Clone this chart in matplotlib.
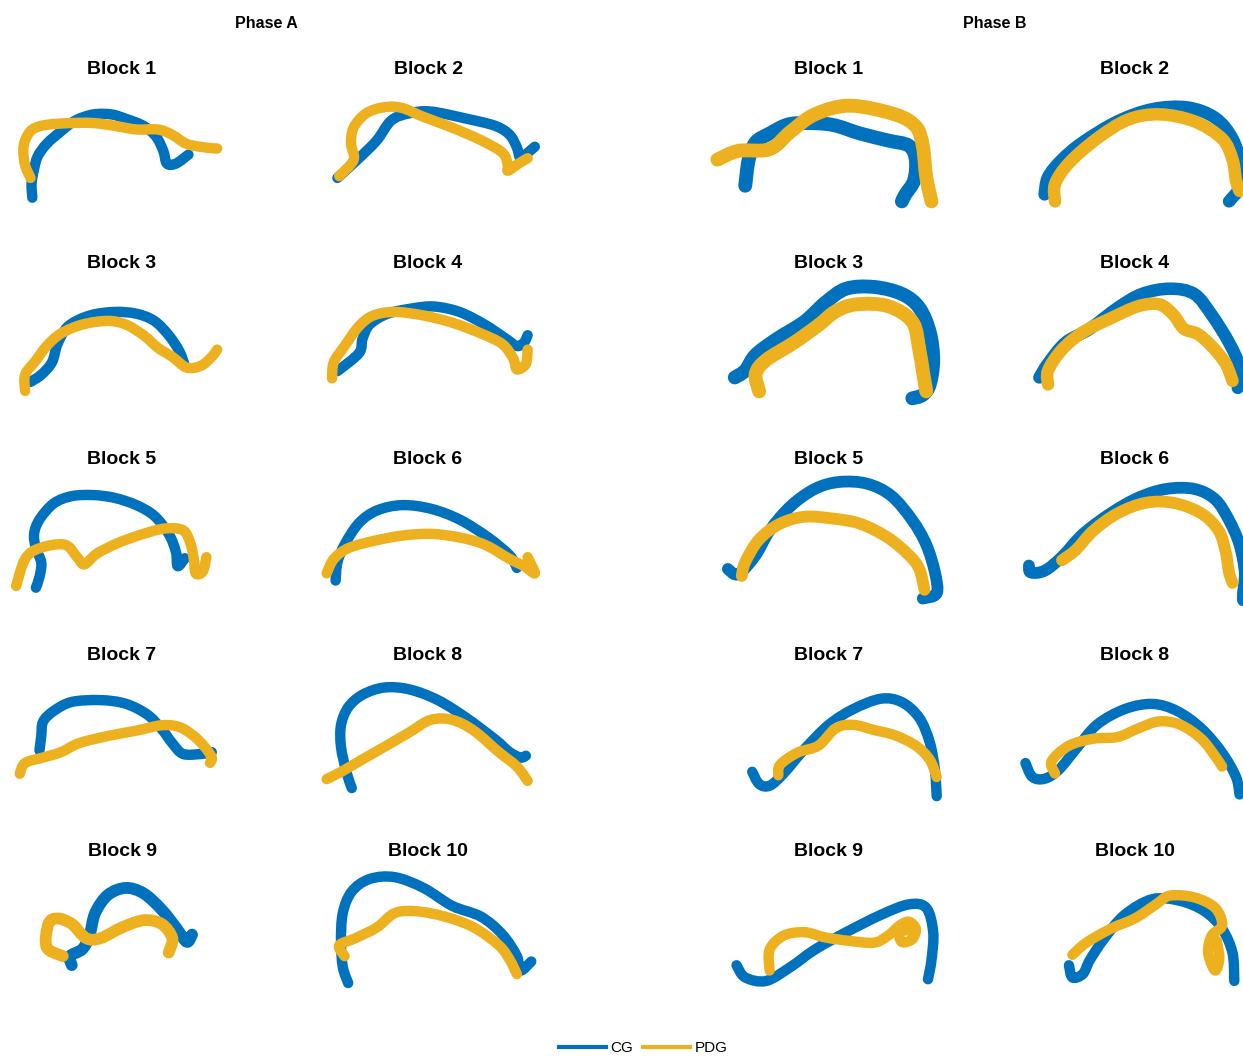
import matplotlib.pyplot as plt
from matplotlib.lines import Line2D
from matplotlib.path import Path
from matplotlib.patches import PathPatch
import numpy as np

plt.rcParams['font.family'] = ['Liberation Sans', 'DejaVu Sans']

BLUE = '#0072BD'
YELLOW = '#EDB120'

# digitised trajectories, one list of (x, y) per block (panel units, y down)
cg_A = {
    1: [(90, 300), (88, 260), (95, 220), (105, 185), (130, 150), (170, 115), (210, 85), (260, 68),
        (310, 68), (350, 80), (400, 100), (435, 130), (455, 170), (465, 205), (490, 205), (525, 180)],
    2: [(160, 245), (220, 190), (270, 140), (310, 85), (360, 65), (420, 60), (520, 80), (600, 100),
        (640, 125), (660, 160), (670, 190), (690, 175), (710, 158)],
    3: [(85, 270), (115, 250), (145, 215), (160, 165), (190, 115), (250, 85), (320, 75), (380, 80),
        (430, 100), (470, 140), (500, 185), (515, 225)],
    4: [(160, 240), (220, 190), (230, 150), (250, 110), (300, 80), (370, 65), (430, 60), (500, 75),
        (570, 110), (630, 150), (660, 170), (680, 160), (690, 140)],
    5: [(100, 300), (110, 270), (115, 230), (100, 190), (95, 150), (110, 110), (150, 65), (200, 45),
        (260, 42), (320, 50), (380, 70), (430, 100), (470, 150), (490, 200), (495, 240), (515, 218)],
    6: [(155, 280), (160, 230), (180, 180), (220, 120), (270, 85), (340, 70), (420, 80), (500, 110),
        (580, 160), (640, 210), (660, 245)],
    7: [(110, 210), (115, 170), (120, 130), (150, 100), (200, 75), (280, 70), (350, 80), (410, 110),
        (450, 150), (480, 190), (510, 220), (560, 220), (590, 215)],
    8: [(200, 315), (185, 270), (170, 200), (170, 140), (190, 90), (230, 55), (290, 35), (360, 40),
        (440, 70), (520, 120), (600, 180), (640, 215), (670, 230), (685, 225)],
    9: [(200, 265), (195, 240), (230, 220), (250, 180), (265, 120), (300, 70), (350, 50), (400, 65),
        (450, 110), (490, 160), (520, 200), (535, 180)],
    10: [(190, 315), (175, 270), (170, 200), (175, 120), (200, 60), (250, 25), (320, 20), (400, 50),
         (480, 100), (560, 130), (620, 180), (660, 240), (670, 280), (700, 255)],
}
pdg_A = {
    1: [(85, 245), (70, 210), (65, 170), (70, 140), (90, 110), (130, 97), (200, 92), (260, 92),
        (320, 100), (380, 110), (440, 110), (480, 125), (520, 150), (570, 160), (605, 163)],
    2: [(165, 240), (205, 195), (198, 150), (205, 105), (240, 65), (290, 48), (340, 50), (400, 75),
        (480, 105), (560, 140), (620, 175), (635, 210), (635, 225), (665, 205), (690, 190)],
    3: [(70, 295), (70, 250), (100, 210), (130, 170), (170, 135), (230, 110), (300, 100), (350, 110),
        (400, 140), (440, 175), (480, 200), (520, 230), (560, 225), (590, 200), (605, 180)],
    4: [(145, 260), (150, 215), (180, 170), (220, 115), (260, 85), (320, 75), (400, 85), (480, 105),
        (560, 135), (620, 165), (650, 205), (660, 235), (685, 220), (690, 180)],
    5: [(45, 295), (70, 220), (110, 190), (180, 180), (215, 215), (235, 235), (270, 205), (330, 175),
        (400, 150), (460, 135), (510, 140), (530, 175), (540, 220), (545, 260), (565, 255), (575, 215)],
    6: [(130, 260), (150, 220), (190, 190), (260, 170), (340, 155), (420, 150), (500, 160), (570, 180),
        (640, 220), (680, 240), (710, 260), (690, 215)],
    7: [(55, 275), (70, 245), (120, 230), (170, 215), (220, 190), (300, 170), (380, 155), (450, 140),
        (500, 145), (540, 170), (570, 200), (590, 230), (585, 245)],
    8: [(130, 290), (170, 270), (230, 235), (300, 195), (360, 160), (420, 125), (480, 125), (540, 155),
        (610, 215), (660, 255), (690, 295)],
    9: [(175, 240), (130, 215), (135, 150), (160, 135), (200, 150), (240, 190), (280, 190), (340, 160),
        (400, 140), (450, 150), (480, 190), (470, 230)],
    10: [(180, 240), (165, 210), (210, 190), (270, 160), (320, 120), (380, 115), (460, 130), (540, 160),
         (610, 210), (640, 250), (660, 290)],
}
cg_B = {
    1: [(130, 275), (140, 200), (160, 150), (200, 125), (250, 100), (300, 95), (380, 100), (460, 125),
        (540, 145), (600, 160), (620, 200), (615, 260), (590, 300), (580, 320)],
    2: [(210, 300), (220, 250), (260, 200), (320, 150), (420, 90), (520, 55), (620, 50), (700, 80),
        (750, 140), (775, 220), (770, 280), (740, 320)],
    3: [(100, 280), (130, 260), (160, 215), (220, 170), (300, 120), (360, 65), (420, 25), (500, 20),
        (580, 40), (630, 80), (660, 150), (670, 230), (660, 300), (640, 330), (610, 340)],
    4: [(195, 280), (220, 240), (270, 180), (340, 140), (420, 80), (490, 40), (570, 25), (640, 40),
        (690, 100), (740, 180), (770, 250), (765, 310)],
    5: [(80, 270), (110, 285), (160, 230), (200, 160), (260, 90), (330, 40), (400, 20), (480, 25),
        (550, 60), (610, 130), (650, 200), (675, 280), (680, 340), (640, 355)],
    6: [(165, 260), (170, 280), (210, 275), (260, 235), (320, 170), (400, 110), (480, 65), (560, 40),
        (640, 40), (700, 70), (740, 130), (770, 200), (785, 280), (780, 340), (780, 360)],
    7: [(150, 235), (170, 270), (200, 275), (240, 240), (300, 170), (370, 100), (440, 55), (520, 25),
        (580, 35), (630, 80), (660, 150), (675, 230), (680, 305)],
    8: [(155, 210), (175, 250), (210, 255), (250, 230), (300, 170), (360, 100), (440, 55), (520, 40),
        (590, 60), (660, 110), (720, 180), (760, 250), (770, 300)],
    9: [(105, 245), (130, 280), (190, 290), (260, 250), (330, 200), (420, 150), (520, 100), (600, 70),
        (650, 80), (670, 150), (665, 230), (655, 285)],
    10: [(280, 245), (290, 280), (320, 270), (340, 230), (380, 170), (440, 100), (520, 55), (600, 60),
         (670, 90), (720, 140), (750, 210), (755, 290)],
}
pdg_B = {
    1: [(50, 200), (110, 175), (200, 170), (260, 120), (330, 70), (430, 45), (560, 70), (620, 105),
        (640, 160), (650, 250), (665, 320)],
    2: [(240, 320), (240, 270), (280, 210), (360, 140), (450, 85), (540, 70), (640, 90), (720, 140),
        (750, 200), (760, 260), (770, 290)],
    3: [(170, 320), (160, 270), (190, 230), (270, 180), (340, 130), (390, 90), (450, 70), (540, 75),
        (610, 120), (630, 200), (640, 260), (650, 320)],
    4: [(220, 300), (220, 260), (260, 200), (320, 150), (400, 110), (480, 75), (540, 70), (580, 100),
        (610, 140), (650, 155), (690, 190), (730, 240), (750, 290)],
    5: [(120, 290), (130, 250), (170, 185), (230, 140), (300, 120), (380, 125), (460, 140), (540, 180),
        (600, 230), (630, 270), (645, 330)],
    6: [(260, 245), (300, 215), (350, 160), (420, 110), (500, 80), (580, 80), (660, 110), (710, 160),
        (730, 220), (740, 280), (750, 310)],
    7: [(225, 245), (230, 215), (280, 180), (340, 160), (390, 110), (440, 100), (500, 115), (560, 130),
        (620, 160), (660, 200), (680, 250)],
    8: [(240, 240), (230, 205), (280, 160), (350, 140), (420, 135), (480, 110), (540, 90), (600, 100),
        (660, 140), (700, 190), (720, 220)],
    9: [(200, 260), (200, 200), (240, 160), (300, 150), (360, 165), (430, 175), (500, 180), (540, 160),
        (575, 130), (600, 120), (620, 140), (610, 170), (580, 178), (572, 148), (600, 145)],
    10: [(290, 215), (330, 180), (400, 140), (470, 110), (530, 70), (570, 45), (640, 50), (700, 80),
         (720, 130), (690, 160), (680, 210), (700, 260), (712, 225), (705, 175)],
}

W, H = 1243, 1056
fig = plt.figure(figsize=(W / 100, H / 100), dpi=100)

# panel grid in pixels: (left of phase, px per unit, row tops, title x centres)
phases = {
    'A': dict(left=0, scale=2.786, tops=[90, 285, 480, 675, 870], tx=[122, 428], cg=cg_A, pdg=pdg_A),
    'B': dict(left=700, scale=2.873, tops=[90, 280, 475, 690, 880], tx=[829, 1135], cg=cg_B, pdg=pdg_B),
}
title_y = [68, 263, 459, 655, 850]
thick = {('B', 1): 10, ('B', 2): 9, ('B', 3): 10, ('B', 4): 9, ('B', 5): 8.5, ('B', 6): 8.5,
         ('A', 9): 8.5}


def draw_curve(ax, pts, color, lw):
    p = np.array(pts, float)
    ext = np.vstack([p[0], p, p[-1]])
    verts = [tuple(p[0])]
    codes = [Path.MOVETO]
    for i in range(1, len(ext) - 2):
        c1 = ext[i] + (ext[i + 1] - ext[i - 1]) / 6
        c2 = ext[i + 1] - (ext[i + 2] - ext[i]) / 6
        verts += [tuple(c1), tuple(c2), tuple(ext[i + 1])]
        codes += [Path.CURVE4] * 3
    patch = PathPatch(Path(verts, codes), facecolor='none', edgecolor=color, lw=lw,
                      joinstyle='round', capstyle='round', clip_on=False)
    ax.add_patch(patch)


for name, ph in phases.items():
    colw = 780 / ph['scale']
    h = 120
    for blk in range(1, 11):
        r, c = (blk - 1) // 2, (blk - 1) % 2
        x0 = ph['left'] + c * colw
        y0 = ph['tops'][r]
        ax = fig.add_axes([x0 / W, 1 - (y0 + h) / H, colw / W, h / H])
        ax.set_xlim(0, 780)
        ax.set_ylim(h * ph['scale'], 0)
        ax.axis('off')
        lw = thick.get((name, blk), 7.5)
        draw_curve(ax, ph['cg'][blk], BLUE, lw)
        draw_curve(ax, ph['pdg'][blk], YELLOW, lw)
        fig.text(ph['tx'][c] / W, 1 - (title_y[r] + 1) / H, 'Block %d' % blk,
                 ha='center', va='center', fontsize=14, fontweight='bold')

fig.text(266 / W, 1 - 24 / H, 'Phase A', ha='center', va='center', fontsize=11.5, fontweight='bold')
fig.text(995 / W, 1 - 24 / H, 'Phase B', ha='center', va='center', fontsize=11.5, fontweight='bold')

handles = [Line2D([], [], color=BLUE, lw=3), Line2D([], [], color=YELLOW, lw=3)]
fig.legend(handles, ['CG', 'PDG'], ncol=2, loc='center', bbox_to_anchor=(643 / W, 1 - 1048 / H),
           frameon=False, fontsize=11, handlelength=3.1, handletextpad=0.3, columnspacing=0.6)

fig.savefig('out.png', dpi=100)
